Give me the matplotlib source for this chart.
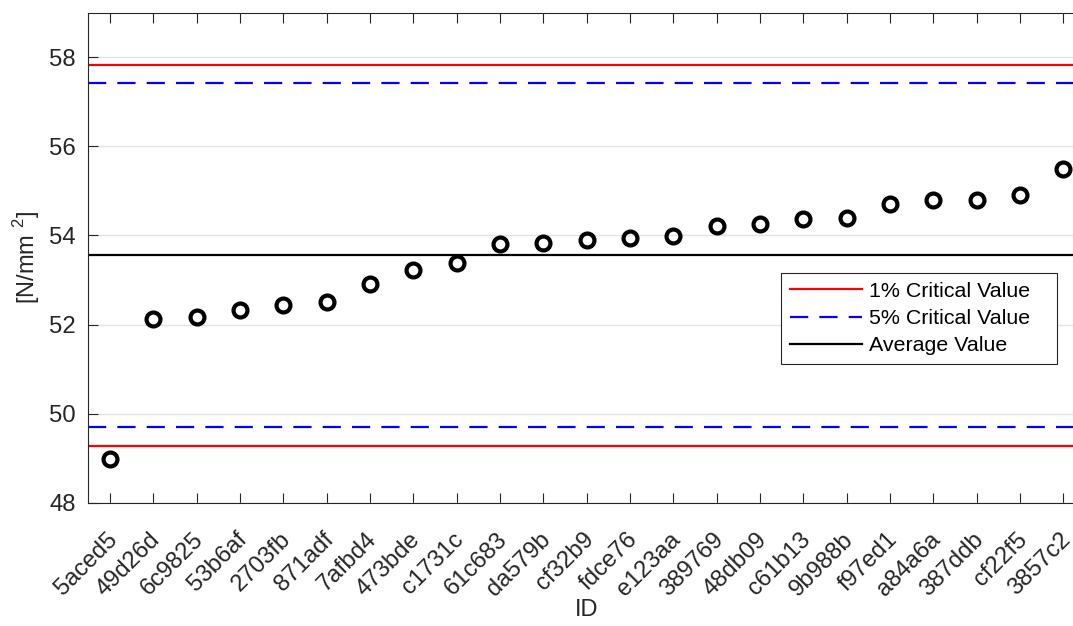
import numpy as np
from matplotlib import pyplot as plt
from matplotlib import transforms

ids = ["5aced5", "49d26d", "6c9825", "53b6af", "2703fb", "871adf", "7afbd4",
       "473bde", "c1731c", "61c683", "da579b", "cf32b9", "fdce76", "e123aa",
       "389769", "48db09", "c61b13", "9b988b", "f97ed1", "a84a6a", "387ddb",
       "cf22f5", "3857c2"]
values = [48.97, 52.12, 52.16, 52.33, 52.43, 52.50, 52.92, 53.22, 53.39,
          53.80, 53.83, 53.89, 53.95, 53.99, 54.22, 54.26, 54.37, 54.40,
          54.70, 54.80, 54.80, 54.90, 55.50]
crit1 = [49.27, 57.83]
crit5 = [49.69, 57.42]
average = 53.55

plt.rcParams['font.family'] = ['Liberation Sans', 'DejaVu Sans']
plt.rcParams['mathtext.fontset'] = 'custom'
plt.rcParams['mathtext.rm'] = 'Liberation Sans'

fig = plt.figure(figsize=(10.73, 6.26), dpi=100)
# axes run past the right edge of the figure, as in the reference
ax = fig.add_axes([88.3 / 1073, 123.3 / 626, 996.7 / 1073, 490 / 626])

x = np.arange(1, len(ids) + 1)
gray = '#262626'

ax.axhline(crit1[1], color='red', lw=1.6, label='1% Critical Value')
ax.axhline(crit5[1], color='blue', lw=1.6, ls=(0, (8.2, 5.0)), label='5% Critical Value')
ax.axhline(average, color='black', lw=1.6, label='Average Value')
ax.axhline(crit5[0], color='blue', lw=1.6, ls=(0, (8.2, 5.0)))
ax.axhline(crit1[0], color='red', lw=1.6)

ax.plot(x, values, ls='none', marker='o', ms=10, mew=3, mfc='none', mec='black')

ax.set_xlim(0.5, len(ids) + 0.5)
ax.set_ylim(48, 59)
ax.set_yticks([48, 50, 52, 54, 56, 58])
ax.set_xticks(x)
ax.set_xticklabels(ids, rotation=45, ha='right', va='top', rotation_mode='anchor')
ax.tick_params(direction='in', length=7.5, width=0.8, colors=gray, labelsize=17.2,
               top=True, right=True, pad=9)
ax.tick_params(axis='x', pad=15)
# nudge the rotated labels a bit left and down
shift = transforms.ScaledTranslation(-4 / 100, -5 / 100, fig.dpi_scale_trans)
for lbl in ax.get_xticklabels():
    lbl.set_transform(lbl.get_transform() + shift)
ax.yaxis.grid(True, color='#e3e3e3', lw=1)
ax.set_axisbelow(True)
for s in ax.spines.values():
    s.set_color(gray)
    s.set_linewidth(0.8)

ax.set_xlabel('ID', fontsize=17, color=gray, labelpad=-1)
ax.set_ylabel(r'[N/mm $^{2}$]', fontsize=17, color=gray, labelpad=5)

# matlab legends leave extra room right of the text
labels = [h + '   ' for h in ['1% Critical Value', '5% Critical Value', 'Average Value']]
handles = ax.get_legend_handles_labels()[0]
leg = ax.legend(handles, labels, loc='upper right', bbox_to_anchor=(1057 / 1073, 1 - 273 / 626),
                bbox_transform=fig.transFigure, borderaxespad=0, fontsize=15.4,
                fancybox=False, framealpha=1, edgecolor=gray, handlelength=3.4,
                handletextpad=0.3, labelspacing=0.38, borderpad=0.42)
leg.get_frame().set_linewidth(0.8)

fig.savefig('out.png', dpi=100)
